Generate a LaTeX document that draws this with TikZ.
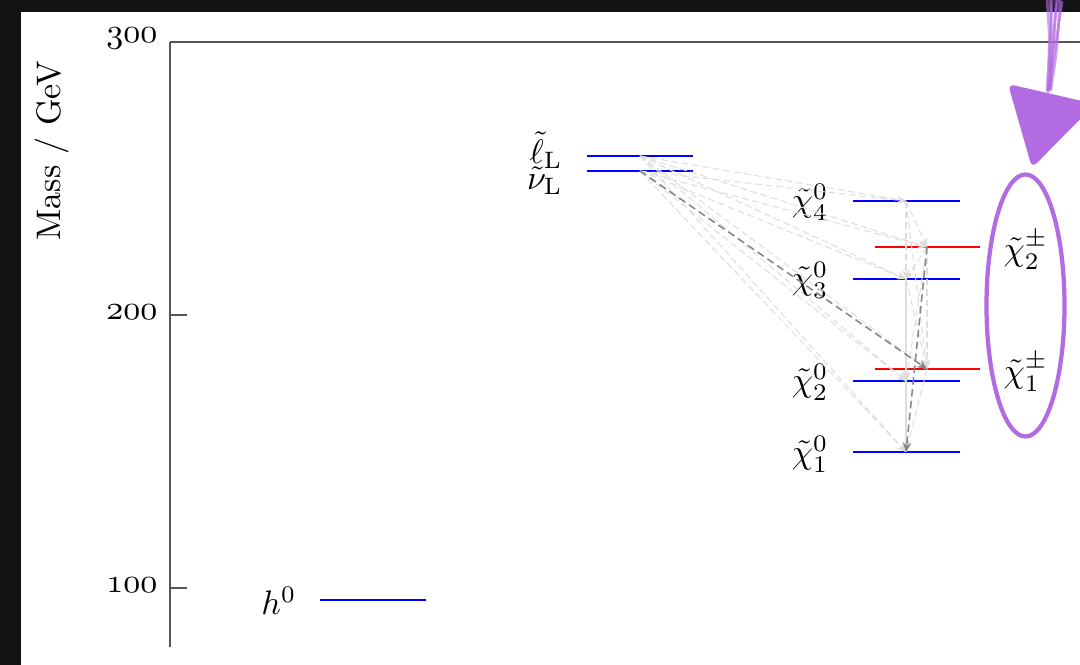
\documentclass[tikz,border=0pt]{standalone}
\usetikzlibrary{arrows.meta}
\definecolor{bgdark}{HTML}{121212}
\definecolor{lvlblue}{HTML}{0000FF}
\definecolor{lvlred}{HTML}{FF0000}
\definecolor{annot}{HTML}{B36BE2}
\definecolor{axisgray}{HTML}{555555}
\definecolor{lightdec}{HTML}{DDDDDD}
\definecolor{darkdec}{HTML}{858585}
\newcommand{\osn}[1]{{\usefont{OML}{cmm}{m}{it}#1}}
\begin{document}
\begin{tikzpicture}[x=0.2941pt, y=-0.2941pt,
  level/.style={line width=0.75pt},
  axisline/.style={axisgray, line width=0.4pt},
  decay/.style={lightdec, line width=0.3pt, dash pattern=on 2pt off 1.1pt,
    -{Stealth[length=2.6pt,width=2.2pt]}},
  strongdecay/.style={darkdec, line width=0.45pt, dash pattern=on 2.2pt off 1.3pt,
    -{Stealth[length=2.8pt,width=2.4pt]}},
  ticklabel/.style={anchor=east, inner sep=0pt},
  lbl/.style={inner sep=0pt},
]
\useasboundingbox (0,0) rectangle (1080,665);
\clip (0,0) rectangle (1080,665);
\fill[bgdark] (0,0) rectangle (1080,665);
\fill[white] (21,12) rectangle (1080,665);

% axes
\draw[axisline] (170,42) -- (1080,42);
\draw[axisline] (170,42) -- (170,647);
\draw[axisline] (170,315) -- (187,315);
\draw[axisline] (170,588) -- (187,588);
\node[ticklabel] (t300) at (158,39) {\osn{300}};
\node[ticklabel] (t200) at (158,312) {\osn{200}};
\node[ticklabel] (t100) at (158,585) {\osn{100}};
\node[rotate=90, inner sep=0pt] (ylab) at (52,151) {Mass / GeV};

% level centres
\coordinate (h) at (373,600);
\coordinate (sL) at (640,156);
\coordinate (nL) at (640,171);
\coordinate (n4) at (906,201);
\coordinate (c2) at (927,247);
\coordinate (n3) at (906,279);
\coordinate (c1) at (927,369);
\coordinate (n2) at (906,381);
\coordinate (n1) at (906,452);

% levels
\draw[level, lvlblue] (320,600) -- (426,600);
\draw[level, lvlblue] (587,156) -- (693,156);
\draw[level, lvlblue] (587,171) -- (693,171);
\draw[level, lvlblue] (853,201) -- (960,201);
\draw[level, lvlred]  (875,247) -- (980,247);
\draw[level, lvlblue] (853,279) -- (960,279);
\draw[level, lvlred]  (875,369) -- (980,369);
\draw[level, lvlblue] (853,381) -- (960,381);
\draw[level, lvlblue] (853,452) -- (960,452);

% labels
\node[lbl, anchor=east] (lh) at (297,601) {$h^0$};
\node[lbl, anchor=east] (lsl) at (563,150) {$\tilde{\ell}_{\mathrm{L}}$};
\node[lbl, anchor=east] (lnl) at (563,181) {$\tilde{\nu}_{\mathrm{L}}$};
\node[lbl, anchor=east] (ln4) at (829,202) {$\tilde{\chi}^0_4$};
\node[lbl, anchor=east] (ln3) at (829,280) {$\tilde{\chi}^0_3$};
\node[lbl, anchor=east] (ln2) at (829,382) {$\tilde{\chi}^0_2$};
\node[lbl, anchor=east] (ln1) at (829,454) {$\tilde{\chi}^0_1$};
\node[lbl, anchor=west] (lc2) at (1003,250) {$\tilde{\chi}^\pm_2$};
\node[lbl, anchor=west] (lc1) at (1003,372) {$\tilde{\chi}^\pm_1$};

% decays
\foreach \t in {n4,c2,n3,c1,n2,n1} \draw[decay] (sL) -- (\t);
\foreach \t in {n4,c2,n3,n2,n1} \draw[decay] (nL) -- (\t);
\foreach \t in {c2,n3,c1,n2,n1} \draw[decay] (n4) -- (\t);
\foreach \t in {n3,c1,n2} \draw[decay] (c2) -- (\t);
\foreach \t in {c1,n2,n1} \draw[decay] (n3) -- (\t);
\draw[decay] (c1) -- (n1);
\draw[decay] (n2) -- (n1);
\draw[strongdecay] (nL) -- (c1);
\draw[strongdecay] (c2) -- (n1);

% annotation
\draw[annot, line width=1.25pt] (1025.5,305.5) ellipse [x radius=39, y radius=131];
\coordinate (ahtip) at (1032,168);
\fill[annot, rounded corners=2pt] (1008,84) -- (1095,104) -- (ahtip) -- cycle;
\begin{scope}[annot, line width=0.8pt, opacity=0.6, line cap=round]
  \draw (1052,0) -- (1048,92);
  \draw (1056,0) .. controls (1054,40) .. (1049,90);
  \draw (1060,0) .. controls (1057,50) .. (1051,88);
  \draw (1047,0) .. controls (1050,40) .. (1047,90);
  \draw (1062,2) .. controls (1058,30) and (1053,60) .. (1050,89);
  \draw (1058,0) .. controls (1052,30) and (1054,60) .. (1048,91);
  \draw (1050,0) .. controls (1053,35) and (1049,65) .. (1051,90);
\end{scope}
\end{tikzpicture}
\end{document}
